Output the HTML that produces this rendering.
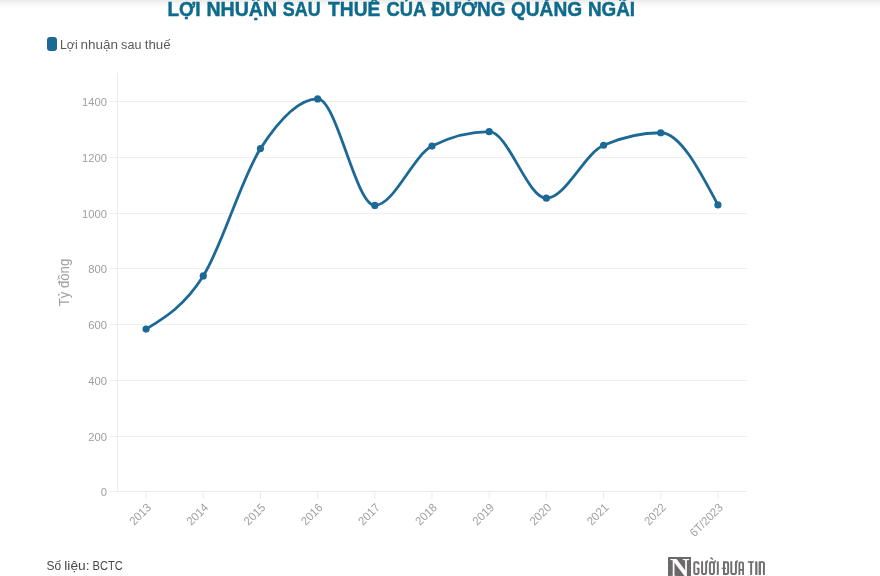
<!DOCTYPE html>
<html><head><meta charset="utf-8">
<style>
html,body{margin:0;padding:0;background:#fff;}
body{width:880px;height:576px;position:relative;overflow:hidden;font-family:"Liberation Sans",sans-serif;}
.shade{position:absolute;left:0;top:0;width:880px;height:8px;background:linear-gradient(#eaeaea,#f7f7f7 45%,#fff);}
</style></head><body>
<div class="shade"></div>
<svg width="880" height="576" viewBox="0 0 880 576" style="position:absolute;left:0;top:0;will-change:transform;font-family:'Liberation Sans',sans-serif">
<rect x="110" y="101" width="637" height="1" fill="#efefef"/>
<rect x="110" y="157" width="637" height="1" fill="#efefef"/>
<rect x="110" y="213" width="637" height="1" fill="#efefef"/>
<rect x="110" y="268" width="637" height="1" fill="#efefef"/>
<rect x="110" y="324" width="637" height="1" fill="#efefef"/>
<rect x="110" y="380" width="637" height="1" fill="#efefef"/>
<rect x="110" y="436" width="637" height="1" fill="#efefef"/>
<rect x="110" y="491" width="637" height="1" fill="#ececec"/>
<rect x="117" y="73" width="1" height="419" fill="#ececec"/>
<rect x="145.59" y="492" width="1" height="7" fill="#ececec"/>
<rect x="202.77" y="492" width="1" height="7" fill="#ececec"/>
<rect x="259.95" y="492" width="1" height="7" fill="#ececec"/>
<rect x="317.14" y="492" width="1" height="7" fill="#ececec"/>
<rect x="374.32" y="492" width="1" height="7" fill="#ececec"/>
<rect x="431.50" y="492" width="1" height="7" fill="#ececec"/>
<rect x="488.68" y="492" width="1" height="7" fill="#ececec"/>
<rect x="545.86" y="492" width="1" height="7" fill="#ececec"/>
<rect x="603.05" y="492" width="1" height="7" fill="#ececec"/>
<rect x="660.23" y="492" width="1" height="7" fill="#ececec"/>
<rect x="717.41" y="492" width="1" height="7" fill="#ececec"/>
<text transform="translate(167.47,15.60) scale(0.9108,1)" font-size="20.80" font-weight="bold" fill="#0f6b8c" stroke="#0f6b8c" stroke-width="0.5">LỢI</text>
<text transform="translate(206.43,15.60) scale(0.9408,1)" font-size="20.80" font-weight="bold" fill="#0f6b8c" stroke="#0f6b8c" stroke-width="0.5">NHUẬN</text>
<text transform="translate(282.76,15.60) scale(0.8628,1)" font-size="20.80" font-weight="bold" fill="#0f6b8c" stroke="#0f6b8c" stroke-width="0.5">SAU</text>
<text transform="translate(328.11,15.60) scale(0.9211,1)" font-size="20.80" font-weight="bold" fill="#0f6b8c" stroke="#0f6b8c" stroke-width="0.5">THUẾ</text>
<text transform="translate(386.46,15.60) scale(0.8837,1)" font-size="20.80" font-weight="bold" fill="#0f6b8c" stroke="#0f6b8c" stroke-width="0.5">CỦA</text>
<text transform="translate(431.61,15.60) scale(0.9089,1)" font-size="20.80" font-weight="bold" fill="#0f6b8c" stroke="#0f6b8c" stroke-width="0.5">ĐƯỜNG</text>
<text transform="translate(510.93,15.60) scale(0.9204,1)" font-size="20.80" font-weight="bold" fill="#0f6b8c" stroke="#0f6b8c" stroke-width="0.5">QUẢNG</text>
<text transform="translate(587.97,15.60) scale(0.9067,1)" font-size="20.80" font-weight="bold" fill="#0f6b8c" stroke="#0f6b8c" stroke-width="0.5">NGÃI</text>
<text transform="translate(59.91,48.70) scale(0.9303,1)" font-size="13.30" font-weight="normal" fill="#5a5a5a" >Lợi</text>
<text transform="translate(80.52,48.70) scale(1.0129,1)" font-size="13.30" font-weight="normal" fill="#5a5a5a" >nhuận</text>
<text transform="translate(121.12,48.70) scale(0.9479,1)" font-size="13.30" font-weight="normal" fill="#5a5a5a" >sau</text>
<text transform="translate(144.80,48.70) scale(0.9973,1)" font-size="13.30" font-weight="normal" fill="#5a5a5a" >thuế</text>
<rect x="47" y="37" width="10" height="14" rx="3" fill="#1d6996"/>
<text transform="translate(46.46,569.50) scale(0.8850,1)" font-size="13.50" font-weight="normal" fill="#474747" >Số</text>
<text transform="translate(64.30,569.50) scale(1.0216,1)" font-size="13.50" font-weight="normal" fill="#474747" >liệu:</text>
<text transform="translate(92.51,569.50) scale(0.8246,1)" font-size="13.50" font-weight="normal" fill="#474747" >BCTC</text>
<text transform="translate(81.96,106.00) scale(0.9536,1)" font-size="11.80" font-weight="normal" fill="#9f9f9f" >1400</text>
<text transform="translate(81.96,162.00) scale(0.9536,1)" font-size="11.80" font-weight="normal" fill="#9f9f9f" >1200</text>
<text transform="translate(81.96,218.00) scale(0.9536,1)" font-size="11.80" font-weight="normal" fill="#9f9f9f" >1000</text>
<text transform="translate(88.26,273.00) scale(0.9536,1)" font-size="11.80" font-weight="normal" fill="#9f9f9f" >800</text>
<text transform="translate(88.26,329.00) scale(0.9536,1)" font-size="11.80" font-weight="normal" fill="#9f9f9f" >600</text>
<text transform="translate(88.26,385.00) scale(0.9536,1)" font-size="11.80" font-weight="normal" fill="#9f9f9f" >400</text>
<text transform="translate(88.26,441.00) scale(0.9536,1)" font-size="11.80" font-weight="normal" fill="#9f9f9f" >200</text>
<text transform="translate(100.75,496.00) scale(0.9536,1)" font-size="11.80" font-weight="normal" fill="#9f9f9f" >0</text>
<text transform="translate(151.59,508.60) rotate(-45) translate(-24.59,0) scale(0.9536,1)" font-size="11.80" font-weight="normal" fill="#9f9f9f">2013</text>
<text transform="translate(208.77,508.60) rotate(-45) translate(-24.70,0) scale(0.9536,1)" font-size="11.80" font-weight="normal" fill="#9f9f9f">2014</text>
<text transform="translate(265.95,508.60) rotate(-45) translate(-24.59,0) scale(0.9536,1)" font-size="11.80" font-weight="normal" fill="#9f9f9f">2015</text>
<text transform="translate(323.14,508.60) rotate(-45) translate(-24.59,0) scale(0.9536,1)" font-size="11.80" font-weight="normal" fill="#9f9f9f">2016</text>
<text transform="translate(380.32,508.60) rotate(-45) translate(-24.48,0) scale(0.9536,1)" font-size="11.80" font-weight="normal" fill="#9f9f9f">2017</text>
<text transform="translate(437.50,508.60) rotate(-45) translate(-24.59,0) scale(0.9536,1)" font-size="11.80" font-weight="normal" fill="#9f9f9f">2018</text>
<text transform="translate(494.68,508.60) rotate(-45) translate(-24.53,0) scale(0.9536,1)" font-size="11.80" font-weight="normal" fill="#9f9f9f">2019</text>
<text transform="translate(551.86,508.60) rotate(-45) translate(-24.64,0) scale(0.9536,1)" font-size="11.80" font-weight="normal" fill="#9f9f9f">2020</text>
<text transform="translate(609.05,508.60) rotate(-45) translate(-24.53,0) scale(0.9536,1)" font-size="11.80" font-weight="normal" fill="#9f9f9f">2021</text>
<text transform="translate(666.23,508.60) rotate(-45) translate(-24.48,0) scale(0.9536,1)" font-size="11.80" font-weight="normal" fill="#9f9f9f">2022</text>
<text transform="translate(723.41,508.60) rotate(-45) translate(-40.85,0) scale(0.9536,1)" font-size="11.80" font-weight="normal" fill="#9f9f9f">6T/2023</text>
<text transform="translate(68.90,306.10) rotate(-90) translate(-0.26,0) scale(0.9225,1)" font-size="14.30" font-weight="normal" fill="#9f9f9f">Tỷ đồng</text>
<path d="M146.09,329.11C165.15,317.55,184.21,305.99,203.27,275.91C222.33,245.83,241.39,178.12,260.45,148.62C279.52,119.12,298.58,98.90,317.64,98.90C336.70,98.90,355.76,205.44,374.82,205.44C393.88,205.44,412.94,155.77,432.00,146.11C451.06,136.45,470.12,131.63,489.18,131.63C508.24,131.63,527.30,198.20,546.36,198.20C565.42,198.20,584.48,153.63,603.55,145.27C622.61,136.92,641.67,132.74,660.73,132.74C679.79,132.74,698.85,168.81,717.91,204.88" fill="none" stroke="#1d6996" stroke-width="2.8" stroke-linecap="round" stroke-linejoin="round"/>
<circle cx="146.09" cy="329.11" r="3.6" fill="#1d6996"/>
<circle cx="203.27" cy="275.91" r="3.6" fill="#1d6996"/>
<circle cx="260.45" cy="148.62" r="3.6" fill="#1d6996"/>
<circle cx="317.64" cy="98.90" r="3.6" fill="#1d6996"/>
<circle cx="374.82" cy="205.44" r="3.6" fill="#1d6996"/>
<circle cx="432.00" cy="146.11" r="3.6" fill="#1d6996"/>
<circle cx="489.18" cy="131.63" r="3.6" fill="#1d6996"/>
<circle cx="546.36" cy="198.20" r="3.6" fill="#1d6996"/>
<circle cx="603.55" cy="145.27" r="3.6" fill="#1d6996"/>
<circle cx="660.73" cy="132.74" r="3.6" fill="#1d6996"/>
<circle cx="717.91" cy="204.88" r="3.6" fill="#1d6996"/>
<rect x="668" y="557" width="23" height="20" fill="#6b6969"/>
<text transform="translate(670.06,577.00) scale(0.9767,1)" font-size="27.60" font-weight="bold" fill="#ffffff" font-family="Liberation Serif,serif" >N</text>
<g id="logotext" fill="none" stroke="#706e6e" stroke-width="1.95"><rect x="757.1" y="561.6" width="1.9" height="13.3" fill="#c9c9c9" stroke="none"/><path d="M698.525,564.6 V563.4250000000001 Q698.525,562.325 697.425,562.325 H695.375 Q694.275,562.325 694.275,563.4250000000001 V572.8249999999999 Q694.275,573.925 695.375,573.925 H697.425 Q698.525,573.925 698.525,572.8249999999999 V568.6 H696.7" /><path d="M702.075,561.35 V572.8249999999999 Q702.075,573.925 703.1750000000001,573.925 H705.025 Q706.125,573.925 706.125,572.8249999999999 V561.35" /><path d="M706.325,562.85 Q707.3,562.85 707.3,560.15" stroke-width="1.4"/><path d="M710.975,562.325 H712.8249999999999 Q713.925,562.325 713.925,563.4250000000001 V572.8249999999999 Q713.925,573.925 712.8249999999999,573.925 H710.975 Q709.875,573.925 709.875,572.8249999999999 V563.4250000000001 Q709.875,562.325 710.975,562.325 Z" /><path d="M714.125,562.85 Q715.3,562.85 715.3,560.35" stroke-width="1.4"/><path d="M710.5,557.6 L713.0,559.5" stroke-width="1.4"/><path d="M717.8,561.35 V574.90" /><path d="M723.975,561.35 V574.9 M723.975,562.325 H727.025 Q728.125,562.325 728.125,563.4250000000001 V572.8249999999999 Q728.125,573.925 727.025,573.925 H723.975" /><path d="M721.8,568.3 H726.0" stroke-width="1.3"/><path d="M731.275,561.35 V572.8249999999999 Q731.275,573.925 732.375,573.925 H734.8249999999999 Q735.925,573.925 735.925,572.8249999999999 V561.35" /><path d="M736.125,562.85 Q737.1999999999999,562.85 737.1999999999999,560.15" stroke-width="1.4"/><path d="M739.375,574.9 V563.4250000000001 Q739.375,562.325 740.475,562.325 H742.025 Q743.125,562.325 743.125,563.4250000000001 V574.9 M739.375,569.9 H743.125" stroke-width="1.8"/><path d="M747.9,562.05 H753.8" stroke-width="1.6"/><path d="M751.15,561.4 V574.90" /><path d="M756.15,561.35 V574.90" /><path d="M759.975,574.9 V561.35 M759.975,562.1 H762.8249999999999 Q763.925,562.1 763.925,563.2 V574.9" /></g>
</svg>
</body></html>
